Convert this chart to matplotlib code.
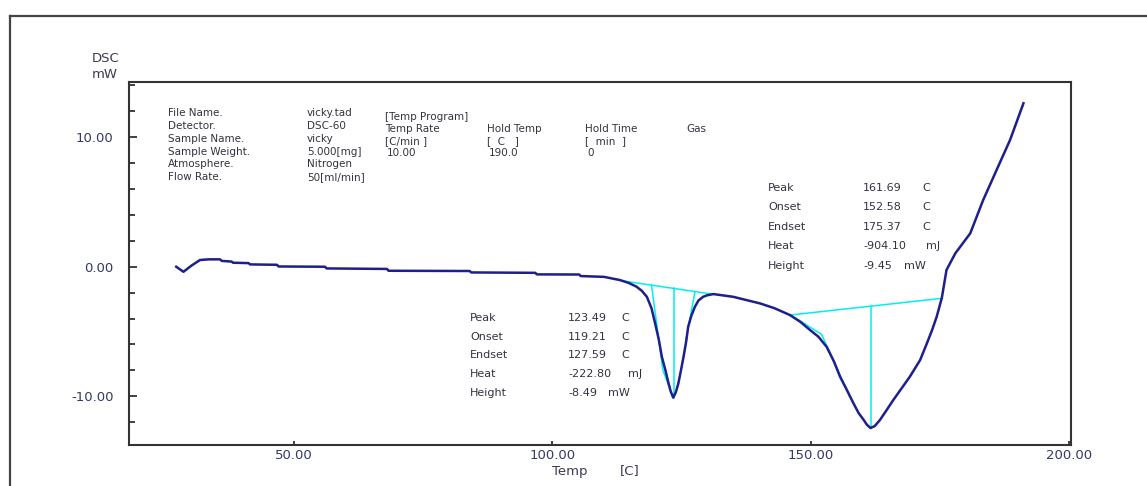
import matplotlib
matplotlib.use("Agg")
import matplotlib.pyplot as plt
from matplotlib.lines import Line2D

# ---------------- data ----------------
temp = [27.2, 28.6, 30.2, 31.8, 33.5, 35.7, 36.0, 37.9, 38.2, 41.2, 41.5, 46.7, 47.0,
        56.0, 56.3, 68.0, 68.3, 84.0, 84.3, 96.7, 97.0, 105.2, 105.5, 110.0, 113.1,
        114.8, 116.3, 117.3, 118.3, 119.2, 119.9, 120.6, 121.2, 121.9, 122.5, 122.9,
        123.4, 123.9, 124.4, 124.9, 125.4, 125.9, 126.3, 126.9, 127.6, 128.3, 129.2,
        130.0, 131.2, 135.0, 140.2, 143.0, 146.0, 148.0, 149.9, 151.5, 153.1, 154.5,
        155.7, 157.0, 158.3, 159.3, 160.3, 160.9, 161.6, 162.4, 163.4, 164.7, 166.0,
        169.2, 171.2, 172.5, 173.5, 174.4, 175.4, 176.3, 178.0, 180.9, 183.4, 186.0,
        188.6, 191.2]
dsc = [0.0, -0.39, 0.10, 0.52, 0.57, 0.57, 0.45, 0.40, 0.31, 0.28, 0.18, 0.15, 0.02,
       0.0, -0.13, -0.17, -0.31, -0.33, -0.44, -0.47, -0.59, -0.60, -0.72, -0.78, -1.03,
       -1.25, -1.54, -1.85, -2.32, -3.2, -4.37, -5.6, -6.95, -8.0, -9.0, -9.6,
       -10.1, -9.7, -9.0, -8.0, -6.95, -5.8, -4.63, -3.8, -3.09, -2.6, -2.32,
       -2.2, -2.11, -2.32, -2.83, -3.2, -3.73, -4.25, -4.89, -5.4, -6.18, -7.3,
       -8.49, -9.5, -10.55, -11.3, -11.84, -12.2, -12.45, -12.3, -11.84, -11.07, -10.29,
       -8.49, -7.2, -5.92, -4.9, -3.86, -2.4, -0.25, 1.03, 2.58, 5.15, 7.47,
       9.78, 12.62]

# analysis construction lines (peak 1 and peak 2)
base1_x = [113.4, 130.9]
base1_y = [-1.08, -2.11]
peak1_x = [123.49, 123.49]
peak1_y = [-1.67, -10.1]
tan1l_x = [119.2, 121.4, 123.4]
tan1l_y = [-1.42, -7.98, -10.1]
tan1r_x = [127.59, 125.8]
tan1r_y = [-1.98, -5.8]

base2_x = [146.0, 175.37]
base2_y = [-3.73, -2.44]
peak2_x = [161.69, 161.69]
peak2_y = [-3.04, -12.45]
tan2_x = [146.0, 148.5, 151.0, 152.1, 157.6]
tan2_y = [-3.73, -4.3, -4.95, -5.2, -10.05]

xticks = [50, 100, 150, 200]
xtick_labels = ["50.00", "100.00", "150.00", "200.00"]
yticks = [-10, 0, 10]
ytick_labels = ["-10.00", "0.00", "10.00"]

info_labels = ["File Name.", "Detector.", "Sample Name.", "Sample Weight.", "Atmosphere.", "Flow Rate."]
info_values = ["vicky.tad", "DSC-60", "vicky", "5.000[mg]", "Nitrogen", "50[ml/min]"]

prog_title = "[Temp Program]"
prog_headers = ["Temp Rate", "Hold Temp", "Hold Time", "Gas"]
prog_units = ["[C/min ]", "[  C   ]", "[  min  ]"]
prog_values = ["10.00", "190.0", "0"]

res_labels = ["Peak", "Onset", "Endset", "Heat", "Height"]
res1_values = ["123.49", "119.21", "127.59", "-222.80", "-8.49"]
res1_units = ["C", "C", "C", "mJ", "mW"]
res2_values = ["161.69", "152.58", "175.37", "-904.10", "-9.45"]
res2_units = ["C", "C", "C", "mJ", "mW"]

# ---------------- figure ----------------
W, H = 1147, 486
fig = plt.figure(figsize=(W / 100, H / 100), dpi=100)
fig.patch.set_facecolor("white")

def fx(px):
    return px / W

def fy(py):
    return 1 - py / H

# outer frame (extends beyond right/bottom)
fig.add_artist(Line2D([fx(10), fx(10)], [fy(16), fy(H + 5)], color="#444444", lw=1.6))
fig.add_artist(Line2D([fx(10), fx(W + 5)], [fy(16), fy(16)], color="#444444", lw=1.6))

ax = fig.add_axes([fx(129), fy(445), fx(1071) - fx(129), fy(82) - fy(445)])
ax.set_xlim(18.06, 200.4)
ax.set_ylim(-13.76, 14.26)

navy = "#1e1e8c"
cyan = "#00eef0"
txtc = "#333340"
tickc = "#34386a"

ax.plot(base1_x, base1_y, color=cyan, lw=1.1, zorder=2)
ax.plot(peak1_x, peak1_y, color=cyan, lw=1.1, zorder=2)
ax.plot(tan1l_x, tan1l_y, color=cyan, lw=1.1, zorder=2)
ax.plot(tan1r_x, tan1r_y, color=cyan, lw=1.1, zorder=2)
ax.plot(base2_x, base2_y, color=cyan, lw=1.1, zorder=2)
ax.plot(peak2_x, peak2_y, color=cyan, lw=1.1, zorder=2)
ax.plot(tan2_x, tan2_y, color=cyan, lw=1.1, zorder=2)
ax.plot(temp, dsc, color=navy, lw=1.8, zorder=3)

for s in ax.spines.values():
    s.set_color("#333333")
    s.set_linewidth(1.5)

ax.set_xticks(xticks)
ax.set_xticklabels(xtick_labels)
ax.set_yticks(yticks)
ax.set_yticklabels(ytick_labels)
ax.set_yticks(list(range(-12, 15, 2)), minor=True)
ax.tick_params(axis="y", which="major", direction="in", length=6, width=1.3,
               color="#333333", labelsize=9.5, labelcolor=tickc, pad=11)
ax.tick_params(axis="y", which="minor", direction="in", length=4, width=1.3, color="#333333")
ax.tick_params(axis="x", which="major", direction="in", length=3, width=1.3,
               color="#333333", labelsize=9.5, labelcolor=tickc, pad=3)

fig.text(fx(106), fy(58), "DSC", ha="center", va="center", fontsize=9.5, color="#3a3a55")
fig.text(fx(105), fy(75), "mW", ha="center", va="center", fontsize=9.5, color="#3a3a55")
fig.text(fx(570), fy(471), "Temp", ha="center", va="center", fontsize=9.5, color="#3a3a55")
fig.text(fx(630), fy(471), "[C]", ha="center", va="center", fontsize=9.5, color="#3a3a55")

# header info block
info_rows = [113, 126, 139, 152, 164, 177]
for lab, val, r in zip(info_labels, info_values, info_rows):
    fig.text(fx(168), fy(r), lab, ha="left", va="center", fontsize=7.5, color=txtc)
    fig.text(fx(307), fy(r), val, ha="left", va="center", fontsize=7.5, color=txtc)

fig.text(fx(385), fy(117), prog_title, ha="left", va="center", fontsize=7.5, color=txtc)
prog_cols = [385, 487, 585, 686]
for h, c in zip(prog_headers, prog_cols):
    fig.text(fx(c), fy(129), h, ha="left", va="center", fontsize=7.5, color=txtc)
for u, c in zip(prog_units, prog_cols):
    fig.text(fx(c), fy(141), u, ha="left", va="center", fontsize=7.5, color=txtc)
for v, c in zip(prog_values, prog_cols):
    fig.text(fx(c + 2), fy(153), v, ha="left", va="center", fontsize=7.5, color=txtc)

# result blocks
def result_block(x_lab, x_val, x_unit_c, x_unit_mj, x_unit_mw, rows, values, units):
    for lab, val, unit, r in zip(res_labels, values, units, rows):
        fig.text(fx(x_lab), fy(r), lab, ha="left", va="center", fontsize=8, color=txtc)
        fig.text(fx(x_val), fy(r), val, ha="left", va="center", fontsize=8, color=txtc)
        ux = {"C": x_unit_c, "mJ": x_unit_mj, "mW": x_unit_mw}[unit]
        fig.text(fx(ux), fy(r), unit, ha="left", va="center", fontsize=8, color=txtc)

result_block(768, 863, 922, 926, 904, [188, 207, 227, 246, 266], res2_values, res2_units)
result_block(470, 568, 621, 628, 608, [318, 337, 355, 374, 393], res1_values, res1_units)

fig.savefig("out.png", dpi=100, facecolor="white")
